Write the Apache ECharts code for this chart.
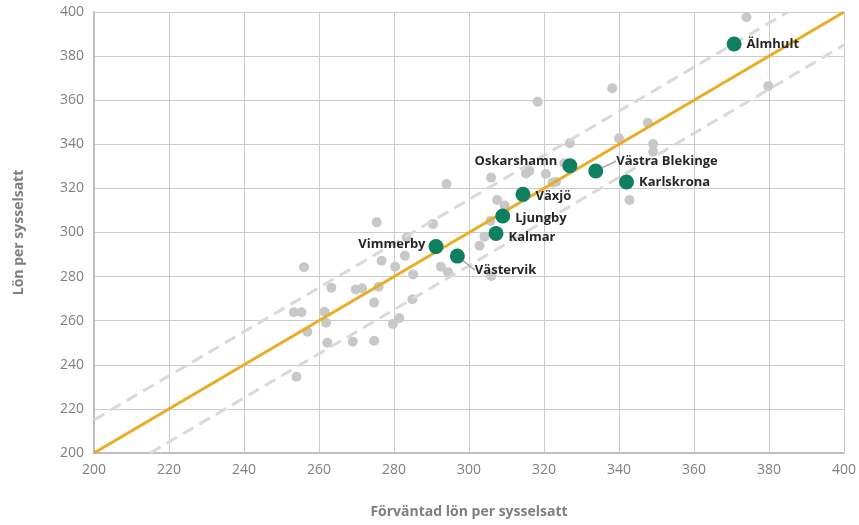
<!DOCTYPE html>
<html>
<head>
<meta charset="utf-8">
<script src="https://cdn.jsdelivr.net/npm/echarts@6/dist/echarts.min.js"></script>
<style>html,body{margin:0;padding:0;background:#fff}#c{width:859px;height:525px}</style>
</head>
<body>
<div id="c"></div>
<script>
// Other municipalities (gray): [expected wage, actual wage]
const otherPoints = [
  [374.0,397.6],[379.8,366.4],[338.2,365.4],[318.3,359.3],[347.7,349.8],[340.0,342.7],
  [349.1,340.1],[349.1,336.6],[342.8,314.7],[326.9,340.5],[305.9,324.9],[294.0,322.0],
  [316.1,327.9],[315.2,326.8],[320.5,326.5],[325.4,331.4],[322.3,322.6],[323.2,323.0],
  [307.5,314.7],[309.5,312.2],[275.4,304.6],[290.4,303.9],[305.7,305.2],[283.4,297.6],
  [304.1,298.1],[302.8,294.0],[294.4,282.0],[292.5,284.5],[305.9,280.3],[276.7,287.2],
  [280.3,284.5],[282.9,289.5],[285.1,281.0],[275.9,275.4],[269.8,274.2],[271.5,274.7],
  [274.7,268.2],[284.9,269.7],[281.4,261.1],[279.7,258.5],[269.0,250.5],[274.7,250.9],
  [256.0,284.2],[263.3,275.0],[253.3,263.8],[255.3,263.8],[261.5,264.1],[261.9,259.1],
  [256.9,255.0],[262.2,250.0],[254.0,234.6]
];
// Highlighted municipalities
const names = ['Älmhult','Västra Blekinge','Karlskrona','Oskarshamn','Växjö','Ljungby','Kalmar','Vimmerby','Västervik'];
const expectedWage = [370.7,333.8,342.0,326.9,314.4,309.0,307.2,291.2,296.9];
const actualWage   = [385.5,327.9,322.9,330.3,317.3,307.5,299.6,293.6,289.3];
// Reference lines
const equalLine = [[200,200],[400,400]];
const upperBand = [[200,215],[385,400]];
const lowerBand = [[215,200],[400,385]];
const axisMin = 200, axisMax = 400, axisStep = 20;

const labelCfg = {
  'Älmhult':        {position:'right'},
  'Västra Blekinge':{position:'right', layout:{dx:8, dy:-10}, line:true},
  'Karlskrona':     {position:'right'},
  'Oskarshamn':     {position:'left', layout:{dx:0, dy:-4}},
  'Växjö':          {position:'right', layout:{dx:0, dy:2}},
  'Ljungby':        {position:'right', layout:{dx:0, dy:2}},
  'Kalmar':         {position:'right', layout:{dx:0, dy:4}},
  'Vimmerby':       {position:'left', layout:{dx:2, dy:-2}},
  'Västervik':      {position:'right', layout:{dx:5, dy:14}, line:true}
};

const highlighted = names.map((n,i)=>({
  name:n,
  value:[expectedWage[i], actualWage[i]],
  label:{position: labelCfg[n].position},
  labelLine:{show: !!labelCfg[n].line}
}));

const fontFam = '"Open Sans", "Liberation Sans", sans-serif';
const chart = echarts.init(document.getElementById('c'), null, {renderer:'canvas'});
chart.setOption({
  animation:false,
  backgroundColor:'#ffffff',
  grid:{left:94, right:12, top:12, bottom:72},
  xAxis:{
    type:'value', min:axisMin, max:axisMax, interval:axisStep,
    name:'Förväntad lön per sysselsatt', nameLocation:'middle', nameGap:52,
    nameTextStyle:{color:'#7f7f7f', fontWeight:'bold', fontSize:14, fontFamily:fontFam},
    axisLine:{show:true, lineStyle:{color:'#bfbfbf', width:2}},
    axisTick:{show:false},
    axisLabel:{color:'#808080', fontSize:14, fontFamily:fontFam, margin:10},
    splitLine:{show:true, lineStyle:{color:'#cbcbcb', width:1}}
  },
  yAxis:{
    type:'value', min:axisMin, max:axisMax, interval:axisStep,
    name:'Lön per sysselsatt', nameLocation:'middle', nameGap:68,
    nameTextStyle:{color:'#7f7f7f', fontWeight:'bold', fontSize:14, fontFamily:fontFam},
    axisLine:{show:true, lineStyle:{color:'#bfbfbf', width:2}},
    axisTick:{show:false},
    axisLabel:{color:'#808080', fontSize:14, fontFamily:fontFam, margin:10},
    splitLine:{show:true, lineStyle:{color:'#cbcbcb', width:1}}
  },
  series:[
    {type:'scatter', data:otherPoints, symbolSize:10, itemStyle:{color:'#c8c8c8', opacity:1}, z:2, silent:true},
    {type:'line', data:upperBand, showSymbol:false, symbol:'none', lineStyle:{color:'#d9d9d9', width:3, type:[12,7]}, z:3},
    {type:'line', data:lowerBand, showSymbol:false, symbol:'none', lineStyle:{color:'#d9d9d9', width:3, type:[12,7]}, z:3},
    {type:'line', data:equalLine, showSymbol:false, symbol:'none', lineStyle:{color:'#e8ad22', width:3}, z:4},
    {type:'scatter', data:highlighted, symbolSize:15, itemStyle:{color:'#0e7f60', opacity:1}, z:5,
      label:{show:true, formatter:'{b}', color:'#262626', fontWeight:'bold', fontSize:13, fontFamily:fontFam, distance:5},
      labelLine:{lineStyle:{color:'#a6a6a6', width:1.5}},
      labelLayout:function(p){
        const n = names[p.dataIndex];
        const l = labelCfg[n].layout;
        return l ? {dx:l.dx, dy:l.dy} : {};
      }
    }
  ]
});
</script>
</body>
</html>
